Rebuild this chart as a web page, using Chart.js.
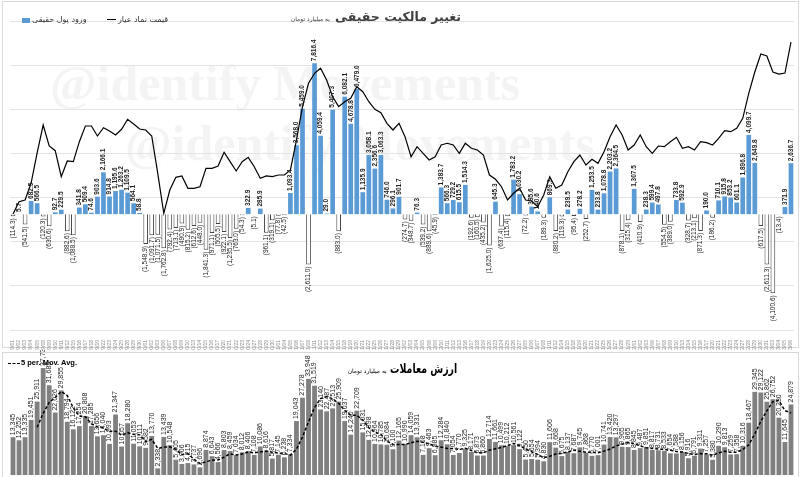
<!DOCTYPE html>
<html>
<head>
<meta charset="utf-8">
<script src="https://cdn.jsdelivr.net/npm/chart.js@4.4.0/dist/chart.umd.min.js"></script>
<style>
body { margin:0; width:800px; height:477px; overflow:hidden; background:#fff; position:relative; font-family:'Liberation Sans', Arial, sans-serif; }
.frame { position:absolute; border:1px solid #d9d9d9; }
.wm { position:absolute; font-family:'Liberation Serif', serif; font-weight:bold; font-size:50px; color:#f4f4f4; white-space:nowrap; }
.fa { position:absolute; font-family:'DejaVu Sans', sans-serif; direction:rtl; white-space:nowrap; }
canvas { position:absolute; left:0; }
</style>
</head>
<body>
<div class="frame" style="left:2px;top:1px;width:795px;height:345px"></div>
<div class="frame" style="left:2px;top:352px;width:795px;height:140px"></div>
<div class="wm" style="left:50px;top:54px">@identify Movements</div>
<div class="wm" style="left:125px;top:114px">@identify Movements</div>

<canvas id="flowChart" width="800" height="350" style="top:0"></canvas>
<canvas id="tradeChart" width="800" height="127" style="top:350px"></canvas>

<div class="fa" style="right:339px;top:6px;color:#404040"><b style="font-size:12.5px">تغییر مالکیت حقیقی</b> <span style="font-size:6px">به میلیارد تومان</span></div>
<div style="position:absolute;left:22px;top:18px;width:8px;height:5px;background:#5b9bd5"></div>
<div class="fa" style="left:32px;top:15px;font-size:8px;color:#333">ورود پول حقیقی</div>
<div style="position:absolute;left:107px;top:19px;width:9px;height:1px;background:#000"></div>
<div class="fa" style="left:118px;top:15px;font-size:8px;color:#333">قیمت نماد عیار</div>

<div class="fa" style="right:343px;top:358px;color:#000"><b style="font-size:13px;display:inline-block;transform:scaleX(0.72);transform-origin:right center;margin-left:-28px">ارزش معاملات</b> <span style="font-size:6px">به میلیارد تومان</span></div>
<div style="position:absolute;left:8px;top:363px;width:12px;border-top:1.5px dashed #000"></div>
<div style="position:absolute;left:21px;top:358px;font-size:7.5px;font-weight:bold;color:#000">5 per. Mov. Avg.</div>

<script>
const dayLabels = ('09/01 09/02 09/03 09/04 09/05 09/08 09/09 09/10 09/11 09/12 09/15 09/16 09/17 09/18 09/19 09/22 09/23 09/24 09/25 09/26 09/29 09/30 ' +
  '10/01 10/02 10/03 10/06 10/07 10/08 10/09 10/10 10/13 10/14 10/15 10/16 10/17 10/20 10/21 10/22 10/23 10/24 10/27 10/28 10/29 10/30 ' +
  '11/01 11/04 11/05 11/06 11/07 11/08 11/11 11/12 11/13 11/14 11/15 11/18 11/19 11/20 11/21 11/22 11/25 11/26 11/27 11/28 11/29 ' +
  '12/02 12/03 12/04 12/05 12/06 12/09 12/10 12/11 12/12 12/13 12/16 12/17 12/18 12/19 12/20 12/23 12/24 12/25 12/26 12/27 ' +
  '01/05 01/06 01/07 01/08 01/11 01/12 01/14 01/15 01/18 01/19 01/20 01/21 01/22 01/25 01/26 01/27 01/28 01/29 ' +
  '02/01 02/02 02/03 02/06 02/07 02/08 02/09 02/10 02/13 02/14 02/15 02/16 02/17 02/20 02/21 02/22 02/23 02/24 02/27 02/28 02/29 02/30 02/31 ' +
  '03/03 03/04 03/05 03/06').split(' ')

// ورود پول حقیقی (billion toman)
const netFlow = [
  -114.3, 5.7, -541.5, 682.5, 566.5, -120.3, -630.6, 92.7, 229.5, -882.6,
  -1088.5, 341.8, 509.4, 74.6, 903.6, 2166.1, 914.8, 1195.6, 1263.2, 1109.5,
  564.1, 58.8, -1548.9, -1091.7, -1071.5, -1762.8, -792.4, -713.1, -490.9, -815.2,
  -612.6, -448.0, -1841.3, -971.1, -505.5, -922.1, -1235.5, -763.0, -54.3, 322.9,
  -5.1, 285.9, -961.1, -319.1, -77.8, -42.5, 1093.4, 3568.0, 5459.0, -2611.0,
  7816.4, 4059.4, 29.0, 5407.3, -883.0, 6082.1, 4678.8, 6479.0, 1135.9, 3058.1,
  2356.6, 3063.3, 746.0, 296.1, 901.7, -274.7, -348.7, 76.3, -539.2, -889.6,
  -45.9, 1383.7, 566.3, 729.2, 615.5, 1514.3, -192.6, -160.5, -435.2, -1625.0,
  645.3, -637.4, -115.4, 1783.2, 1030.2, -72.2, 385.6, 140.6, -189.3, 869.3,
  -880.2, -119.3, 239.5, -95.4, 278.2, -252.7, 1253.5, 233.8, 1078.8, 2203.2,
  2364.5, -878.1, -315.4, 1307.5, -410.9, 238.3, 599.4, 497.8, -554.5, -389.0,
  733.8, 592.9, -328.7, -213.1, -871.3, 190.0, -186.2, 710.1, 915.8, 853.2,
  601.1, 1896.8, 4099.7, 2649.8, -617.5, -2611.3, -4100.6, -13.4, 371.9, 2636.7
]

// قیمت نماد عیار
const price = [
  2628, 2906, 2945, 3330, 4010, 4644, 4168, 4062, 3473, 3829,
  3813, 4266, 4621, 4621, 4395, 4583, 4508, 4418, 4547, 4773,
  4667, 4553, 4531, 4395, 3550, 2644, 3172, 3459, 3489, 3210,
  3210, 3246, 3663, 3663, 3715, 4026, 3813, 3602, 3813, 3912,
  3699, 3437, 3489, 3473, 3511, 3511, 3625, 4304, 5059, 5589,
  5815, 5929, 5664, 5285, 5059, 5172, 5249, 5512, 5399, 5172,
  5000, 4923, 4683, 4531, 4683, 4379, 3926, 4153, 4003, 3851,
  3926, 4191, 4230, 4191, 4003, 4230, 4116, 4078, 3964, 3511,
  3414, 3246, 2945, 3097, 3210, 2945, 2922, 2793, 3058, 3473,
  3210, 3285, 3586, 3813, 3964, 3738, 3867, 3776, 4039, 4379,
  4644, 4418, 4078, 4191, 4418, 4153, 4003, 4168, 4153, 4266,
  4366, 4116, 4153, 4078, 4266, 4243, 4191, 4343, 4515, 4492,
  4569, 4796, 5362, 5845, 6253, 6207, 5845, 5799, 5822, 6524
]

// ارزش معاملات (billion toman)
const tradeValue = [
  13345, 12252, 13335, 19451, 25911, 37737, 31685, 22026, 29855, 18794,
  16122, 17254, 20808, 17285, 13656, 14040, 10993, 21347, 10057, 18280,
  11053, 10111, 9582, 13770, 2338, 13439, 10548, 5405, 3906, 4215,
  3737, 2696, 8874, 6643, 4566, 8803, 8459, 7034, 8012, 8406,
  7108, 10086, 8616, 5817, 7145, 6238, 7334, 19043, 27278, 33948,
  31519, 23140, 22487, 23513, 25909, 19037, 14240, 22709, 15031, 12398,
  10964, 10785, 10684, 9100, 12165, 10990, 14059, 13331, 7108, 9463,
  6985, 12284, 10840, 7054, 7770, 9325, 8171, 6873, 6860, 12714,
  11661, 10499, 10212, 10561, 9122, 5450, 5654, 5394, 4830, 11606,
  9668, 6675, 8137, 7687, 9745, 7868, 6770, 7001, 10741, 13420,
  13297, 9965, 9865, 8845, 9487, 9851, 8817, 8731, 8533, 7654,
  7588, 8156, 5916, 6791, 9311, 7257, 5380, 10290, 9813, 7259,
  7358, 10316, 18467, 29345, 29122, 25862, 26752, 20230, 11645, 24879
]

// the 5 per. Mov. Avg. trendline of the trade value series (as the spreadsheet draws it)
const tradeAvg = tradeValue.map((v, i) => i < 4 ? null : tradeValue.slice(i - 4, i + 1).reduce((a, b) => a + b, 0) / 5)

Chart.defaults.font.family = "'Liberation Sans', Arial, sans-serif"

const barLabels = {
  id: 'barLabels',
  afterDatasetsDraw(chart, args, opts) {
    const ctx = chart.ctx
    chart.data.datasets.forEach((ds, di) => {
      if (ds.type !== 'bar') return
      chart.getDatasetMeta(di).data.forEach((bar, i) => {
        const v = ds.data[i]
        ctx.save()
        ctx.translate(bar.x, v >= 0 ? bar.y - 2 : bar.y + 2)
        ctx.rotate(-Math.PI / 2)
        ctx.font = v >= 0 ? opts.posFont : opts.negFont
        ctx.fillStyle = '#222'
        ctx.textBaseline = 'middle'
        ctx.textAlign = v >= 0 ? 'left' : 'right'
        ctx.fillText(opts.format(v), 0, 0)
        ctx.restore()
      })
    })
  }
}

const fmt1 = v => Math.abs(v).toLocaleString('en-US', { minimumFractionDigits: 1, maximumFractionDigits: 1 })

new Chart(document.getElementById('flowChart'), {
  data: {
    labels: dayLabels,
    datasets: [{
      type: 'line',
      data: price,
      yAxisID: 'y2',
      borderColor: '#000',
      borderWidth: 1.2,
      pointRadius: 0,
      order: 0
    }, {
      type: 'bar',
      data: netFlow,
      yAxisID: 'y',
      backgroundColor: c => c.raw < 0 ? '#ffffff' : '#5b9bd5',
      borderColor: '#404040',
      borderWidth: c => c.raw < 0 ? 1 : 0,
      categoryPercentage: 1,
      barPercentage: 0.78,
      order: 1
    }]
  },
  options: {
    responsive: false,
    animation: false,
    layout: { padding: { top: 21, left: 10, right: 6, bottom: 0 } },
    plugins: {
      legend: { display: false },
      tooltip: { enabled: false },
      barLabels: {
        posFont: 'bold 6.5px "Liberation Sans"',
        negFont: '6.5px "Liberation Sans"',
        format: v => v < 0 ? '(' + fmt1(v) + ')' : fmt1(v)
      }
    },
    scales: {
      x: {
        afterFit: s => { s.height = 20 },
        grid: { display: false },
        border: { display: false },
        ticks: { autoSkip: false, minRotation: 90, maxRotation: 90, font: { size: 5 }, color: '#8c8c8c', padding: 2 }
      },
      y: { display: false, min: -6000, max: 10000 },
      y2: {
        position: 'left',
        min: 0, max: 7000,
        afterFit: s => { s.width = 0 },
        ticks: { display: false, stepSize: 1000 },
        grid: { color: '#e3e3e3', drawTicks: false },
        border: { display: false }
      }
    }
  },
  plugins: [barLabels]
})

new Chart(document.getElementById('tradeChart'), {
  data: {
    labels: dayLabels,
    datasets: [{
      type: 'line',
      data: tradeAvg,
      borderColor: '#000',
      borderWidth: 1.5,
      borderDash: [3, 2],
      pointRadius: 0,
      order: 0
    }, {
      type: 'bar',
      data: tradeValue,
      backgroundColor: '#808080',
      categoryPercentage: 1,
      barPercentage: 0.8,
      order: 1
    }]
  },
  options: {
    responsive: false,
    animation: false,
    layout: { padding: { top: 6, left: 10, right: 6, bottom: 2 } },
    plugins: {
      legend: { display: false },
      tooltip: { enabled: false },
      barLabels: {
        posFont: '7px "Liberation Sans"',
        negFont: '7px "Liberation Sans"',
        format: v => Math.round(v).toLocaleString('en-US')
      }
    },
    scales: {
      x: { display: false },
      y: { display: false, min: 0, max: 42000 }
    }
  },
  plugins: [barLabels]
})
</script>
</body>
</html>
